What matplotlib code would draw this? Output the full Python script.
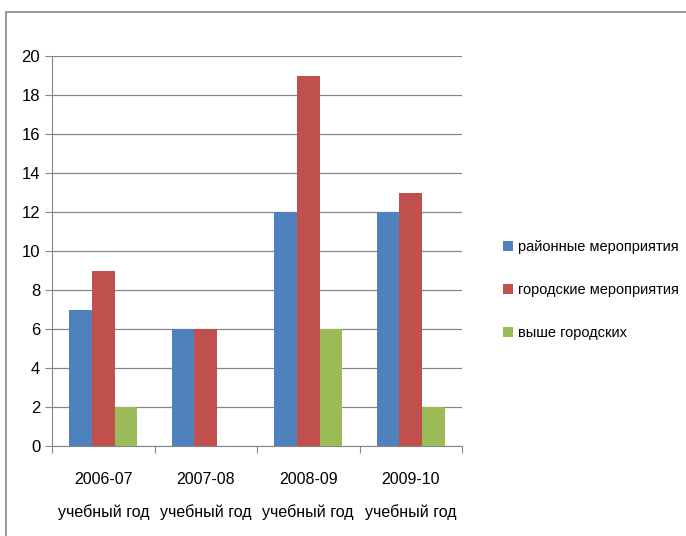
import matplotlib.pyplot as plt
import numpy as np
from matplotlib.patches import Rectangle

plt.rcParams['font.family'] = ['Liberation Sans', 'DejaVu Sans']

years = ['2006-07\nучебный год', '2007-08\nучебный год', '2008-09\nучебный год', '2009-10\nучебный год']
series = ['районные мероприятия', 'городские мероприятия', 'выше городских']
rayon = [7, 6, 12, 12]
gorod = [9, 6, 19, 13]
vyshe = [2, 0, 6, 2]
colors = ['#4F81BD', '#C0504D', '#9BBB59']

fig = plt.figure(figsize=(6.86, 5.36), dpi=100)
ax = fig.add_axes([52/686, 1-446/536, 410/686, 390/536])

x = np.arange(len(years))
w = 0.22
for i, (vals, c, lab) in enumerate(zip([rayon, gorod, vyshe], colors, series)):
    ax.bar(x + (i - 1) * w, vals, w, color=c, label=lab, zorder=3)

ax.set_xlim(-0.5, len(years) - 0.5)
ax.set_ylim(0, 20)
ax.set_yticks(range(0, 21, 2))
ax.grid(axis='y', color='#868686', linewidth=0.9, zorder=0)
for s in ['top', 'right']:
    ax.spines[s].set_visible(False)
for s in ['left', 'bottom']:
    ax.spines[s].set_color('#868686')
ax.tick_params(axis='y', colors='#868686', labelcolor='black', labelsize=12, length=5, direction='out')
ax.set_xticks(np.arange(-0.5, len(years), 1))
ax.set_xticklabels([])
ax.tick_params(axis='x', colors='#868686', length=5)
ax.set_xticks(x, minor=True)
ax.set_xticklabels(years, minor=True, fontsize=11.5, linespacing=2.3)
ax.tick_params(axis='x', which='minor', length=0, pad=19)

h, l = ax.get_legend_handles_labels()
fig.legend(h, l, loc='center left', bbox_to_anchor=(490/686, 1-290/536), frameon=False,
           fontsize=10.5, handlelength=0.7, handleheight=0.7, handletextpad=0.3, labelspacing=2.0)

fig.patches.append(Rectangle((6/686, -0.1), 1.2, 1-12/536 + 0.1, transform=fig.transFigure,
                             fill=False, edgecolor='#868686', linewidth=1.2))

fig.savefig('out.png', dpi=100)
